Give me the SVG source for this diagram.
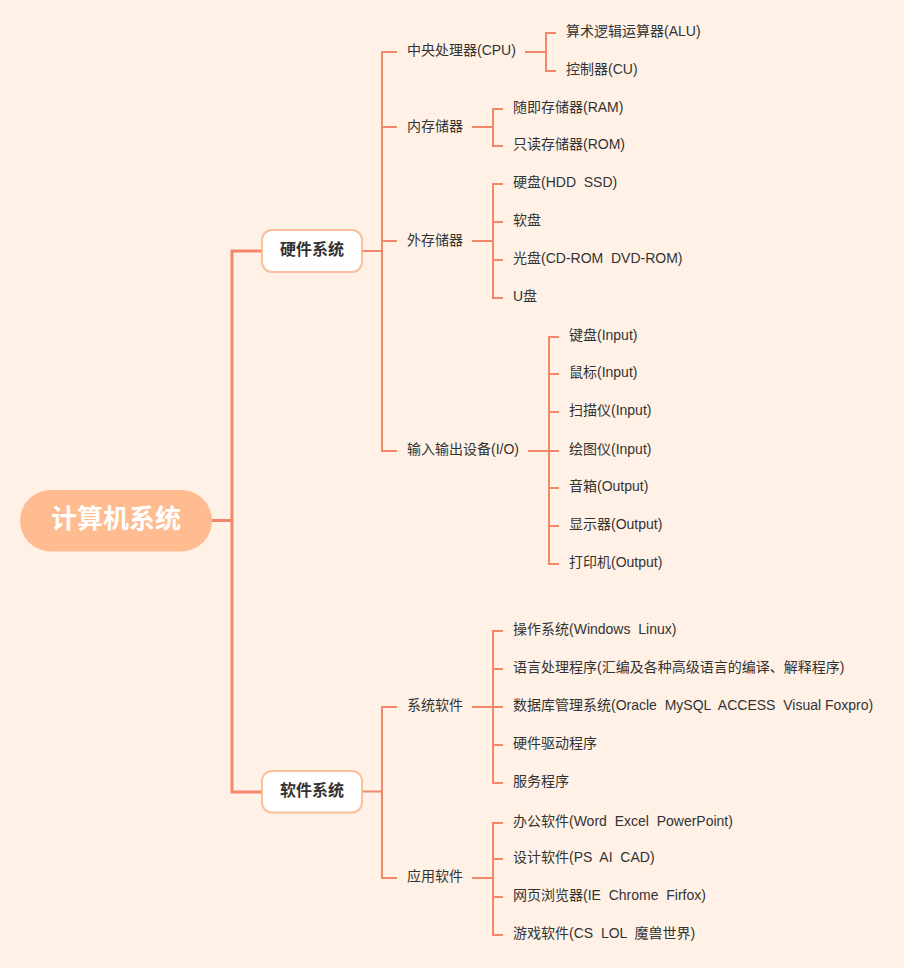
<svg xmlns="http://www.w3.org/2000/svg" width="904" height="968" viewBox="0 0 904 968">
<style>
.l1{fill:none;stroke:#F3876A;stroke-width:3}
.l2{fill:none;stroke:#F3876A;stroke-width:2}
.t{font-family:"Liberation Sans","Noto Sans CJK SC",sans-serif;font-size:14px;fill:#333;dominant-baseline:central;white-space:pre}
.sub rect{fill:#FFFFFF;stroke:#F9C09B;stroke-width:2}
.sub text{font-family:"Liberation Sans","Noto Sans CJK SC",sans-serif;font-size:16px;font-weight:bold;fill:#333;text-anchor:middle;dominant-baseline:central}
</style>
<rect width="904" height="968" fill="#FFF1E6"/>
<g id="connectors">
<path class="l1" d="M211,520.5 H232 M262,251 H232 V792 H262"/>
<path class="l2" d="M362,251 H382 M397,52 H382 V451 H397 M382,127 H397 M382,241 H397"/>
<path class="l2" d="M525,52 H546 M556,33 H546 V71 H556"/>
<path class="l2" d="M472,127 H493 M503,109 H493 V146 H503"/>
<path class="l2" d="M472,241 H493 M503,184 H493 V298 H503 M493,222 H503 M493,260 H503"/>
<path class="l2" d="M528,451 H549 M559,337 H549 V564 H559 M549,374 H559 M549,412 H559 M549,451 H559 M549,488 H559 M549,526 H559"/>
<path class="l2" d="M362,791.5 H382 M397,707 H382 V878 H397"/>
<path class="l2" d="M472,707 H493 M503,631 H493 V783 H503 M493,669 H503 M493,707 H503 M493,745 H503"/>
<path class="l2" d="M472,878 H493 M503,823 H493 V935 H503 M493,859 H503 M493,897 H503"/>
</g>
<g id="root">
<rect x="20" y="490" width="192" height="61.5" rx="30.75" fill="#FFBC90"/>
<text x="116" y="518.5" font-family="Liberation Sans,'Noto Sans CJK SC',sans-serif" font-size="26" font-weight="bold" fill="#FFFFFF" text-anchor="middle" dominant-baseline="central">计算机系统</text>
</g>
<g id="hardware" class="sub">
<rect x="262" y="230" width="100" height="42" rx="10"/>
<text x="312" y="249.5">硬件系统</text>
</g>
<g id="software" class="sub">
<rect x="262" y="771" width="100" height="41.5" rx="10"/>
<text x="312" y="790">软件系统</text>
</g>
<g id="hw-cpu"><text class="t" x="407" y="49.5">中央处理器(CPU)</text></g>
<g id="hw-alu"><text class="t" x="566" y="30.5">算术逻辑运算器(ALU)</text></g>
<g id="hw-cu"><text class="t" x="566" y="68.5">控制器(CU)</text></g>
<g id="hw-mem"><text class="t" x="407" y="125.5">内存储器</text></g>
<g id="hw-ram"><text class="t" x="513" y="106.5">随即存储器(RAM)</text></g>
<g id="hw-rom"><text class="t" x="513" y="144">只读存储器(ROM)</text></g>
<g id="hw-ext"><text class="t" x="407" y="239.5">外存储器</text></g>
<g id="hw-hdd"><text class="t" x="513" y="182">硬盘(HDD  SSD)</text></g>
<g id="hw-floppy"><text class="t" x="513" y="220">软盘</text></g>
<g id="hw-cd"><text class="t" x="513" y="258">光盘(CD-ROM  DVD-ROM)</text></g>
<g id="hw-u"><text class="t" x="513" y="296">U盘</text></g>
<g id="hw-io"><text class="t" x="407" y="448.5">输入输出设备(I/O)</text></g>
<g id="io-1"><text class="t" x="569" y="334.5">键盘(Input)</text></g>
<g id="io-2"><text class="t" x="569" y="372">鼠标(Input)</text></g>
<g id="io-3"><text class="t" x="569" y="410">扫描仪(Input)</text></g>
<g id="io-4"><text class="t" x="569" y="448.5">绘图仪(Input)</text></g>
<g id="io-5"><text class="t" x="569" y="486">音箱(Output)</text></g>
<g id="io-6"><text class="t" x="569" y="524">显示器(Output)</text></g>
<g id="io-7"><text class="t" x="569" y="562">打印机(Output)</text></g>
<g id="sw-sys"><text class="t" x="407" y="704.5">系统软件</text></g>
<g id="sys-1"><text class="t" x="513" y="628.5">操作系统(Windows  Linux)</text></g>
<g id="sys-2"><text class="t" x="513" y="666.5">语言处理程序(汇编及各种高级语言的编译、解释程序)</text></g>
<g id="sys-3"><text class="t" x="513" y="704.5">数据库管理系统(Oracle  MySQL  ACCESS  Visual Foxpro)</text></g>
<g id="sys-4"><text class="t" x="513" y="742.5">硬件驱动程序</text></g>
<g id="sys-5"><text class="t" x="513" y="780.5">服务程序</text></g>
<g id="sw-app"><text class="t" x="407" y="875.5">应用软件</text></g>
<g id="app-1"><text class="t" x="513" y="820.5">办公软件(Word  Excel  PowerPoint)</text></g>
<g id="app-2"><text class="t" x="513" y="856.5">设计软件(PS  AI  CAD)</text></g>
<g id="app-3"><text class="t" x="513" y="894.5">网页浏览器(IE  Chrome  Firfox)</text></g>
<g id="app-4"><text class="t" x="513" y="932.5">游戏软件(CS  LOL  魔兽世界)</text></g>
</svg>
